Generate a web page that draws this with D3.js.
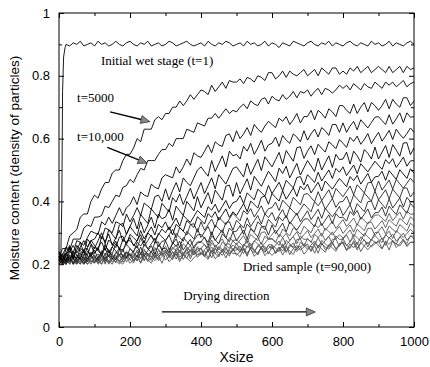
<!DOCTYPE html>
<html>
<head>
<meta charset="utf-8">
<script src="https://cdn.jsdelivr.net/npm/d3@7"></script>
<style>
  body { margin: 0; background: #fff; }
  svg { display: block; }
  .tick text { font-family: "Liberation Sans", Arial, sans-serif; font-size: 13px; }
</style>
</head>
<body>
<svg id="svg"></svg>
<script>
// samples along Xsize, one every 10
var xStep = 10;

// wet stage (t=1): steep rise near x=0, then flat from x=20 on (step 10)
var wetLeadX = [0, 5, 8, 10, 13, 17];
var wetLeadY = [0.22, 0.22, 0.40, 0.75, 0.86, 0.89];
var wetY = [
  0.90,0.895,0.905,0.90,0.91,0.895,0.90,0.905,0.895,0.91,
  0.90,0.905,0.895,0.90,0.91,0.90,0.895,0.905,0.91,0.90,
  0.895,0.905,0.90,0.91,0.895,0.90,0.905,0.895,0.90,0.91,
  0.905,0.895,0.90,0.905,0.91,0.90,0.895,0.90,0.905,0.895,
  0.91,0.90,0.895,0.905,0.90,0.91,0.905,0.895,0.90,0.905,
  0.895,0.91,0.90,0.905,0.895,0.90,0.91,0.895,0.905,0.90,
  0.89,0.905,0.90,0.895,0.91,0.905,0.90,0.895,0.905,0.91,
  0.90,0.895,0.905,0.90,0.91,0.895,0.905,0.90,0.895,0.905,
  0.91,0.90,0.895,0.905,0.90,0.895,0.91,0.90,0.905,0.895,
  0.90,0.91,0.895,0.905,0.90,0.895,0.905,0.91,0.90];

// later stages, x = 0..1000 step 10, top curve first
var t5000 = [
  0.22,0.25,0.25,0.29,0.30,0.31,0.35,0.36,0.36,0.40,
  0.42,0.41,0.44,0.46,0.46,0.49,0.50,0.50,0.53,0.55,
  0.55,0.57,0.60,0.59,0.63,0.63,0.63,0.66,0.67,0.66,
  0.68,0.68,0.70,0.70,0.72,0.705,0.72,0.74,0.725,0.74,
  0.755,0.75,0.74,0.77,0.75,0.765,0.78,0.76,0.785,0.78,
  0.78,0.79,0.775,0.795,0.79,0.78,0.80,0.795,0.785,0.81,
  0.81,0.79,0.80,0.815,0.795,0.815,0.805,0.80,0.81,0.82,
  0.80,0.81,0.82,0.80,0.825,0.815,0.805,0.825,0.825,0.805,
  0.815,0.805,0.825,0.815,0.83,0.81,0.82,0.83,0.81,0.82,
  0.83,0.82,0.81,0.83,0.81,0.82,0.83,0.81,0.83,0.82,
  0.825];
var t10000 = [
  0.21,0.23,0.255,0.245,0.28,0.28,0.28,0.315,0.325,0.32,
  0.35,0.35,0.355,0.385,0.38,0.40,0.42,0.415,0.445,0.45,
  0.47,0.46,0.485,0.505,0.50,0.53,0.53,0.53,0.55,0.565,
  0.565,0.585,0.575,0.60,0.60,0.60,0.63,0.625,0.62,0.65,
  0.645,0.64,0.665,0.665,0.68,0.665,0.68,0.695,0.68,0.69,
  0.685,0.70,0.71,0.695,0.72,0.71,0.705,0.725,0.73,0.71,
  0.735,0.725,0.72,0.74,0.725,0.735,0.75,0.73,0.75,0.745,
  0.755,0.735,0.75,0.76,0.74,0.76,0.755,0.745,0.755,0.77,
  0.76,0.77,0.755,0.775,0.765,0.755,0.775,0.765,0.76,0.78,
  0.77,0.76,0.78,0.77,0.78,0.765,0.775,0.785,0.765,0.775,
  0.78];
var s3 = [
  0.235,0.215,0.235,0.26,0.235,0.275,0.27,0.26,0.285,0.305,
  0.30,0.295,0.335,0.325,0.35,0.33,0.355,0.38,0.355,0.38,
  0.39,0.415,0.39,0.43,0.42,0.415,0.455,0.445,0.44,0.475,
  0.485,0.48,0.475,0.51,0.49,0.51,0.535,0.515,0.555,0.545,
  0.54,0.56,0.58,0.555,0.59,0.58,0.575,0.61,0.615,0.59,
  0.625,0.60,0.615,0.635,0.61,0.645,0.63,0.62,0.64,0.655,
  0.645,0.635,0.665,0.655,0.67,0.645,0.66,0.68,0.65,0.67,
  0.67,0.69,0.66,0.69,0.68,0.665,0.695,0.685,0.67,0.705,
  0.705,0.69,0.68,0.71,0.68,0.70,0.715,0.685,0.715,0.705,
  0.69,0.705,0.725,0.695,0.725,0.71,0.70,0.73,0.73,0.705,
  0.72];
var s4 = [
  0.22,0.21,0.25,0.24,0.26,0.235,0.255,0.275,0.255,0.275,
  0.28,0.30,0.28,0.315,0.31,0.30,0.335,0.33,0.32,0.36,
  0.335,0.355,0.38,0.355,0.395,0.385,0.375,0.415,0.42,0.40,
  0.44,0.405,0.435,0.46,0.43,0.475,0.46,0.45,0.475,0.50,
  0.51,0.495,0.48,0.53,0.495,0.52,0.545,0.51,0.56,0.545,
  0.55,0.535,0.575,0.56,0.585,0.55,0.57,0.595,0.56,0.58,
  0.585,0.605,0.575,0.61,0.595,0.585,0.615,0.605,0.59,0.625,
  0.595,0.615,0.63,0.605,0.635,0.625,0.61,0.645,0.645,0.62,
  0.65,0.62,0.64,0.655,0.628,0.66,0.647,0.634,0.651,0.668,
  0.67,0.657,0.645,0.676,0.646,0.663,0.682,0.651,0.682,0.668,
  0.67];
var s5 = [
  0.24,0.225,0.21,0.255,0.22,0.245,0.27,0.235,0.28,0.265,
  0.25,0.275,0.30,0.265,0.31,0.295,0.28,0.325,0.33,0.295,
  0.32,0.346,0.312,0.358,0.344,0.33,0.376,0.362,0.348,0.394,
  0.38,0.366,0.412,0.398,0.424,0.39,0.416,0.442,0.408,0.434,
  0.46,0.425,0.45,0.475,0.44,0.485,0.47,0.455,0.48,0.505,
  0.51,0.494,0.478,0.522,0.486,0.51,0.534,0.498,0.542,0.526,
  0.51,0.533,0.556,0.519,0.562,0.545,0.528,0.571,0.574,0.537,
  0.56,0.577,0.549,0.582,0.569,0.557,0.59,0.58,0.568,0.597,
  0.585,0.572,0.604,0.591,0.608,0.582,0.597,0.616,0.584,0.603,
  0.62,0.592,0.608,0.626,0.597,0.63,0.614,0.601,0.616,0.634,
  0.62];
var s6 = [
  0.24,0.204,0.228,0.252,0.216,0.26,0.244,0.228,0.252,0.276,
  0.26,0.244,0.288,0.272,0.296,0.26,0.284,0.308,0.272,0.296,
  0.32,0.305,0.29,0.335,0.30,0.325,0.35,0.315,0.36,0.345,
  0.35,0.375,0.34,0.385,0.37,0.355,0.40,0.385,0.37,0.415,
  0.38,0.404,0.428,0.392,0.436,0.42,0.404,0.448,0.452,0.416,
  0.46,0.424,0.448,0.472,0.436,0.48,0.464,0.448,0.472,0.496,
  0.48,0.463,0.506,0.489,0.512,0.475,0.498,0.521,0.484,0.507,
  0.53,0.513,0.495,0.538,0.50,0.523,0.545,0.508,0.55,0.533,
  0.535,0.557,0.519,0.56,0.545,0.525,0.565,0.553,0.535,0.573,
  0.535,0.557,0.578,0.54,0.581,0.563,0.544,0.586,0.587,0.549,
  0.57];
var s7 = [
  0.215,0.234,0.207,0.241,0.229,0.218,0.251,0.24,0.228,0.262,
  0.235,0.253,0.271,0.244,0.277,0.265,0.253,0.286,0.289,0.262,
  0.295,0.284,0.273,0.307,0.281,0.30,0.319,0.293,0.327,0.316,
  0.335,0.309,0.328,0.347,0.321,0.355,0.344,0.333,0.352,0.371,
  0.36,0.349,0.383,0.372,0.391,0.365,0.384,0.403,0.377,0.396,
  0.40,0.419,0.393,0.427,0.416,0.405,0.439,0.428,0.417,0.451,
  0.425,0.443,0.461,0.434,0.467,0.455,0.443,0.476,0.479,0.452,
  0.485,0.473,0.46,0.493,0.465,0.483,0.50,0.473,0.505,0.493,
  0.51,0.482,0.499,0.516,0.488,0.52,0.507,0.494,0.511,0.528,
  0.515,0.502,0.533,0.52,0.536,0.508,0.524,0.541,0.512,0.529,
  0.53];
var s8 = [
  0.20,0.218,0.235,0.208,0.24,0.228,0.215,0.248,0.25,0.223,
  0.255,0.243,0.231,0.264,0.237,0.255,0.273,0.246,0.279,0.267,
  0.285,0.258,0.276,0.294,0.267,0.30,0.288,0.276,0.294,0.312,
  0.30,0.319,0.293,0.327,0.316,0.305,0.339,0.328,0.317,0.351,
  0.34,0.328,0.361,0.349,0.367,0.34,0.358,0.376,0.349,0.367,
  0.355,0.374,0.393,0.367,0.401,0.39,0.379,0.413,0.417,0.391,
  0.425,0.413,0.401,0.434,0.407,0.425,0.443,0.416,0.449,0.437,
  0.455,0.427,0.444,0.461,0.433,0.465,0.452,0.439,0.456,0.473,
  0.46,0.447,0.479,0.466,0.483,0.455,0.472,0.489,0.461,0.478,
  0.48,0.496,0.467,0.498,0.484,0.47,0.501,0.487,0.473,0.504,
  0.49];
var s9 = [
  0.21,0.198,0.23,0.218,0.235,0.208,0.225,0.243,0.215,0.233,
  0.235,0.253,0.225,0.258,0.245,0.233,0.265,0.253,0.24,0.273,
  0.275,0.263,0.251,0.284,0.257,0.275,0.293,0.266,0.299,0.287,
  0.275,0.293,0.311,0.284,0.317,0.305,0.293,0.326,0.329,0.302,
  0.335,0.308,0.326,0.344,0.317,0.35,0.338,0.326,0.344,0.362,
  0.35,0.338,0.371,0.359,0.377,0.35,0.368,0.386,0.359,0.377,
  0.38,0.398,0.371,0.404,0.392,0.38,0.413,0.401,0.389,0.422,
  0.425,0.412,0.399,0.431,0.403,0.42,0.437,0.409,0.441,0.428,
  0.415,0.432,0.449,0.421,0.453,0.44,0.427,0.459,0.461,0.433,
  0.465,0.436,0.452,0.468,0.439,0.47,0.456,0.442,0.458,0.474,
  0.46];
var s10 = [
  0.225,0.212,0.20,0.221,0.203,0.22,0.237,0.209,0.241,0.228,
  0.245,0.217,0.234,0.251,0.223,0.255,0.242,0.229,0.246,0.263,
  0.25,0.238,0.27,0.258,0.275,0.248,0.265,0.283,0.255,0.273,
  0.275,0.293,0.265,0.298,0.285,0.273,0.305,0.293,0.28,0.313,
  0.285,0.303,0.32,0.293,0.325,0.313,0.30,0.333,0.335,0.308,
  0.34,0.328,0.315,0.348,0.32,0.338,0.355,0.328,0.36,0.348,
  0.365,0.338,0.356,0.374,0.347,0.38,0.368,0.356,0.374,0.392,
  0.38,0.367,0.399,0.386,0.403,0.375,0.392,0.409,0.381,0.398,
  0.40,0.417,0.389,0.421,0.408,0.395,0.427,0.414,0.401,0.433,
  0.405,0.421,0.437,0.408,0.439,0.425,0.411,0.442,0.443,0.414,
  0.43];
var s11 = [
  0.21,0.227,0.20,0.23,0.216,0.203,0.234,0.221,0.207,0.239,
  0.225,0.212,0.243,0.23,0.246,0.217,0.234,0.251,0.222,0.239,
  0.225,0.242,0.259,0.231,0.263,0.25,0.237,0.269,0.271,0.243,
  0.275,0.247,0.264,0.281,0.253,0.285,0.272,0.259,0.276,0.293,
  0.295,0.283,0.27,0.303,0.275,0.293,0.31,0.283,0.315,0.303,
  0.305,0.323,0.295,0.328,0.315,0.303,0.335,0.323,0.31,0.343,
  0.33,0.318,0.35,0.338,0.355,0.328,0.345,0.363,0.335,0.353,
  0.37,0.342,0.358,0.375,0.346,0.378,0.364,0.351,0.367,0.384,
  0.355,0.372,0.389,0.361,0.393,0.38,0.367,0.399,0.401,0.373,
  0.405,0.391,0.377,0.408,0.379,0.395,0.411,0.382,0.413,0.399,
  0.40];
var s12 = [
  0.225,0.20,0.212,0.228,0.20,0.23,0.216,0.202,0.218,0.234,
  0.205,0.222,0.238,0.21,0.241,0.228,0.214,0.245,0.247,0.219,
  0.25,0.237,0.223,0.255,0.226,0.243,0.259,0.231,0.262,0.249,
  0.25,0.237,0.269,0.256,0.273,0.245,0.262,0.279,0.251,0.268,
  0.27,0.287,0.259,0.291,0.278,0.265,0.297,0.284,0.271,0.303,
  0.275,0.292,0.309,0.281,0.313,0.30,0.287,0.319,0.321,0.293,
  0.325,0.297,0.314,0.331,0.303,0.335,0.322,0.309,0.326,0.343,
  0.345,0.332,0.319,0.351,0.323,0.34,0.357,0.329,0.361,0.348,
  0.35,0.337,0.368,0.355,0.371,0.343,0.359,0.376,0.347,0.364,
  0.365,0.382,0.353,0.385,0.371,0.358,0.389,0.376,0.362,0.394,
  0.38];
var s13 = [
  0.20,0.211,0.224,0.201,0.226,0.215,0.204,0.229,0.23,0.207,
  0.22,0.233,0.21,0.235,0.224,0.213,0.238,0.227,0.216,0.241,
  0.23,0.22,0.245,0.235,0.248,0.226,0.239,0.253,0.23,0.244,
  0.257,0.235,0.248,0.262,0.239,0.265,0.254,0.243,0.257,0.271,
  0.272,0.262,0.251,0.277,0.254,0.268,0.281,0.258,0.284,0.274,
  0.263,0.277,0.291,0.269,0.295,0.285,0.275,0.301,0.303,0.281,
  0.295,0.309,0.286,0.312,0.301,0.29,0.316,0.306,0.295,0.321,
  0.31,0.30,0.326,0.316,0.33,0.308,0.322,0.336,0.314,0.328,
  0.342,0.32,0.333,0.347,0.324,0.35,0.339,0.328,0.342,0.356,
  0.357,0.347,0.336,0.362,0.339,0.353,0.366,0.343,0.369,0.359,
  0.36];
var s14 = [
  0.222,0.211,0.20,0.224,0.20,0.213,0.225,0.202,0.226,0.215,
  0.227,0.204,0.217,0.23,0.207,0.232,0.221,0.21,0.223,0.236,
  0.213,0.227,0.24,0.217,0.243,0.233,0.222,0.248,0.249,0.227,
  0.24,0.229,0.254,0.243,0.256,0.233,0.246,0.259,0.236,0.249,
  0.25,0.264,0.241,0.267,0.256,0.246,0.271,0.26,0.25,0.276,
  0.277,0.267,0.256,0.282,0.259,0.273,0.286,0.263,0.289,0.279,
  0.28,0.27,0.295,0.285,0.298,0.276,0.289,0.303,0.28,0.294,
  0.307,0.285,0.298,0.312,0.289,0.315,0.304,0.293,0.307,0.321,
  0.298,0.312,0.325,0.302,0.328,0.318,0.307,0.333,0.334,0.312,
  0.325,0.339,0.316,0.342,0.331,0.321,0.346,0.336,0.325,0.351,
  0.34];
var s15 = [
  0.222,0.20,0.21,0.222,0.20,0.222,0.21,0.20,0.21,0.222,
  0.215,0.204,0.228,0.217,0.229,0.206,0.218,0.231,0.207,0.22,
  0.232,0.222,0.211,0.236,0.214,0.228,0.241,0.218,0.244,0.234,
  0.235,0.248,0.225,0.25,0.239,0.228,0.253,0.242,0.231,0.256,
  0.233,0.246,0.259,0.236,0.261,0.25,0.239,0.264,0.265,0.242,
  0.267,0.245,0.258,0.272,0.249,0.275,0.264,0.253,0.267,0.281,
  0.282,0.271,0.26,0.285,0.262,0.275,0.288,0.265,0.29,0.279,
  0.28,0.27,0.295,0.285,0.298,0.276,0.289,0.303,0.28,0.294,
  0.283,0.296,0.309,0.286,0.311,0.30,0.289,0.314,0.315,0.292,
  0.305,0.319,0.296,0.322,0.311,0.301,0.326,0.316,0.305,0.331,
  0.32];
var s16 = [
  0.21,0.20,0.222,0.21,0.222,0.20,0.21,0.222,0.20,0.21,
  0.203,0.216,0.228,0.204,0.229,0.218,0.206,0.23,0.231,0.207,
  0.22,0.233,0.21,0.235,0.224,0.213,0.238,0.227,0.216,0.241,
  0.242,0.231,0.22,0.245,0.222,0.235,0.248,0.225,0.25,0.239,
  0.252,0.229,0.242,0.255,0.232,0.257,0.246,0.235,0.248,0.261,
  0.25,0.239,0.264,0.253,0.266,0.243,0.256,0.269,0.246,0.259,
  0.248,0.261,0.274,0.251,0.276,0.265,0.254,0.279,0.28,0.257,
  0.282,0.271,0.26,0.285,0.262,0.275,0.288,0.265,0.29,0.279,
  0.28,0.293,0.27,0.295,0.284,0.273,0.298,0.287,0.276,0.301,
  0.302,0.279,0.292,0.305,0.282,0.307,0.296,0.285,0.298,0.311,
  0.30];
var s17 = [
  0.21,0.222,0.20,0.222,0.21,0.20,0.222,0.21,0.20,0.222,
  0.222,0.211,0.20,0.225,0.202,0.215,0.228,0.205,0.23,0.219,
  0.232,0.209,0.221,0.234,0.21,0.235,0.223,0.211,0.224,0.236,
  0.213,0.226,0.239,0.216,0.241,0.23,0.219,0.244,0.245,0.222,
  0.235,0.224,0.249,0.238,0.251,0.228,0.241,0.254,0.231,0.244,
  0.245,0.258,0.234,0.259,0.247,0.236,0.26,0.249,0.237,0.262,
  0.262,0.251,0.24,0.265,0.242,0.255,0.268,0.245,0.27,0.259,
  0.248,0.261,0.274,0.251,0.276,0.265,0.254,0.279,0.28,0.257,
  0.282,0.259,0.272,0.285,0.262,0.287,0.276,0.265,0.278,0.291,
  0.28,0.269,0.294,0.283,0.296,0.273,0.286,0.299,0.276,0.289,
  0.29];
var s18 = [
  0.20,0.21,0.22,0.20,0.22,0.21,0.20,0.22,0.22,0.20,
  0.222,0.20,0.211,0.224,0.20,0.225,0.213,0.20,0.214,0.227,
  0.215,0.204,0.229,0.218,0.231,0.208,0.221,0.234,0.211,0.224,
  0.237,0.226,0.214,0.239,0.215,0.228,0.24,0.217,0.241,0.23,
  0.23,0.243,0.22,0.245,0.234,0.223,0.248,0.237,0.226,0.251,
  0.228,0.241,0.253,0.229,0.254,0.243,0.231,0.256,0.256,0.232,
  0.257,0.234,0.247,0.26,0.237,0.262,0.251,0.24,0.253,0.266,
  0.255,0.244,0.268,0.257,0.269,0.246,0.258,0.271,0.247,0.26,
  0.272,0.261,0.25,0.275,0.252,0.265,0.278,0.255,0.28,0.269,
  0.27,0.283,0.26,0.285,0.274,0.263,0.288,0.277,0.266,0.291,
  0.28];
var s19 = [
  0.215,0.206,0.20,0.217,0.20,0.208,0.218,0.20,0.219,0.21,
  0.21,0.222,0.20,0.222,0.21,0.20,0.222,0.21,0.20,0.222,
  0.203,0.215,0.227,0.203,0.227,0.215,0.203,0.227,0.227,0.203,
  0.232,0.208,0.22,0.232,0.208,0.232,0.22,0.208,0.22,0.232,
  0.237,0.226,0.215,0.24,0.217,0.23,0.243,0.22,0.245,0.234,
  0.235,0.224,0.248,0.236,0.249,0.225,0.238,0.251,0.227,0.24,
  0.228,0.24,0.253,0.229,0.254,0.242,0.231,0.255,0.256,0.232,
  0.245,0.258,0.235,0.26,0.249,0.238,0.263,0.252,0.241,0.266,
  0.267,0.243,0.256,0.269,0.245,0.27,0.258,0.246,0.259,0.272,
  0.26,0.249,0.274,0.263,0.276,0.253,0.266,0.279,0.256,0.269,
  0.27];
var t90000 = [
  0.225,0.205,0.22,0.20,0.225,0.215,0.20,0.225,0.21,0.22,
  0.23,0.21,0.225,0.20,0.23,0.22,0.205,0.23,0.215,0.225,
  0.235,0.21,0.23,0.205,0.235,0.23,0.212,0.238,0.225,0.234,
  0.245,0.22,0.24,0.228,0.245,0.215,0.235,0.245,0.23,0.24,
  0.25,0.225,0.245,0.22,0.25,0.24,0.228,0.25,0.235,0.245,
  0.255,0.238,0.25,0.225,0.255,0.245,0.23,0.255,0.24,0.25,
  0.26,0.235,0.255,0.242,0.26,0.23,0.25,0.26,0.245,0.255,
  0.265,0.24,0.26,0.235,0.265,0.255,0.248,0.265,0.25,0.26,
  0.27,0.245,0.265,0.252,0.27,0.24,0.26,0.27,0.255,0.265,
  0.275,0.25,0.27,0.245,0.275,0.265,0.258,0.275,0.26,0.27,
  0.27];

var stages = [t5000, t10000, s3, s4, s5, s6, s7, s8, s9, s10,
              s11, s12, s13, s14, s15, s16, s17, s18, s19, t90000];

var xMajor = [0, 200, 400, 600, 800, 1000];
var xMinor = [100, 300, 500, 700, 900];
var yMajor = [0, 0.2, 0.4, 0.6, 0.8, 1];
var yMinor = [0.1, 0.3, 0.5, 0.7, 0.9];

// set the dimensions and margins of the graph
var margin = {top: 13, right: 16, bottom: 40, left: 59},
    width = 430 - margin.left - margin.right,
    height = 367 - margin.top - margin.bottom;

var svg = d3.select("#svg")
    .attr("width", 430)
    .attr("height", 367)
  .append("g")
    .attr("transform", "translate(" + margin.left + "," + margin.top + ")");

var x = d3.scaleLinear().domain([0, 1000]).range([0, width]);
var y = d3.scaleLinear().domain([0, 1]).range([height, 0]);

var line = d3.line()
    .x(function(d) { return x(d[0]); })
    .y(function(d) { return y(d[1]); });

// the curves; the dense bottom band is greyer, upper ones drawn last
stages.slice().reverse().forEach(function(s, i) {
  var k = stages.length - 1 - i;
  svg.append("path")
      .datum(s.map(function(v, j) { return [j * xStep, v]; }))
      .attr("fill", "none")
      .attr("stroke", k >= 12 ? "#555" : (k >= 8 ? "#222" : "#000"))
      .attr("stroke-width", 0.9)
      .attr("stroke-linejoin", "round")
      .attr("d", line);
});

var wetPts = wetLeadX.map(function(v, j) { return [v, wetLeadY[j]]; })
    .concat(wetY.map(function(v, j) { return [20 + j * xStep, v]; }));
svg.append("path")
    .datum(wetPts)
    .attr("fill", "none")
    .attr("stroke", "#000")
    .attr("stroke-width", 0.9)
    .attr("stroke-linejoin", "round")
    .attr("d", line);

// axes, ticks pointing inwards on all four sides
function noLabels(g) { g.selectAll("text").remove(); }
function tidy(g) { g.select(".domain").remove(); g.selectAll("line").attr("stroke", "#000"); }

svg.append("g")
    .attr("transform", "translate(0," + height + ")")
    .call(d3.axisBottom(x).tickValues(xMajor).tickSize(-5).tickPadding(10).tickFormat(d3.format("d")))
    .call(tidy);
svg.append("g")
    .attr("transform", "translate(0," + height + ")")
    .call(d3.axisBottom(x).tickValues(xMinor).tickSize(-3)).call(noLabels).call(tidy);
svg.append("g")
    .call(d3.axisTop(x).tickValues(xMajor).tickSize(-5)).call(noLabels).call(tidy);
svg.append("g")
    .call(d3.axisTop(x).tickValues(xMinor).tickSize(-3)).call(noLabels).call(tidy);

svg.append("g")
    .call(d3.axisLeft(y).tickValues(yMajor).tickSize(-5).tickPadding(9)
      .tickFormat(function(d) { return d === 0 || d === 1 ? d : d3.format(".1f")(d); }))
    .call(tidy);
svg.append("g")
    .call(d3.axisLeft(y).tickValues(yMinor).tickSize(-3)).call(noLabels).call(tidy);
svg.append("g")
    .attr("transform", "translate(" + width + ",0)")
    .call(d3.axisRight(y).tickValues(yMajor).tickSize(-5)).call(noLabels).call(tidy);
svg.append("g")
    .attr("transform", "translate(" + width + ",0)")
    .call(d3.axisRight(y).tickValues(yMinor).tickSize(-3)).call(noLabels).call(tidy);

svg.append("rect")
    .attr("width", width)
    .attr("height", height)
    .attr("fill", "none")
    .attr("stroke", "#000")
    .attr("stroke-width", 1);

svg.selectAll(".tick text").attr("fill", "#000");

// axis titles
svg.append("text")
    .attr("x", width / 2)
    .attr("y", height + 35)
    .attr("text-anchor", "middle")
    .style("font-family", "Liberation Sans, Arial, sans-serif")
    .style("font-size", "14px")
    .text("Xsize");
svg.append("text")
    .attr("transform", "translate(-40," + (height / 2 - 2) + ") rotate(-90)")
    .attr("text-anchor", "middle")
    .style("font-family", "Liberation Sans, Arial, sans-serif")
    .style("font-size", "13.5px")
    .text("Moisture content (density of particles)");

// handmade annotations
var serif = "Liberation Serif, Times New Roman, serif";
function note(tx, ty, str) {
  svg.append("text")
      .attr("x", x(tx)).attr("y", y(ty))
      .style("font-family", serif)
      .style("font-size", "13px")
      .text(str);
}
note(118, 0.835, "Initial wet stage (t=1)");
note(51, 0.717, "t=5000");
note(51, 0.592, "t=10,000");
note(518, 0.178, "Dried sample (t=90,000)");
note(350, 0.085, "Drying direction");

function arrow(x0, y0, x1, y1) {
  var px0 = x(x0), py0 = y(y0), px1 = x(x1), py1 = y(y1);
  var a = Math.atan2(py1 - py0, px1 - px0), len = 9, w = 4;
  var bx = px1 - len * Math.cos(a), by = py1 - len * Math.sin(a);
  svg.append("line")
      .attr("x1", px0).attr("y1", py0).attr("x2", bx).attr("y2", by)
      .attr("stroke", "#000").attr("stroke-width", 1.3);
  svg.append("path")
      .attr("d", "M" + px1 + "," + py1 +
        "L" + (bx + w * Math.sin(a)) + "," + (by - w * Math.cos(a)) +
        "L" + (bx - w * Math.sin(a)) + "," + (by + w * Math.cos(a)) + "Z")
      .attr("fill", "#888").attr("stroke", "#222").attr("stroke-width", 0.7);
}
arrow(144, 0.685, 256, 0.654);
arrow(136, 0.572, 248, 0.522);
arrow(290, 0.048, 722, 0.048);
</script>
</body>
</html>
